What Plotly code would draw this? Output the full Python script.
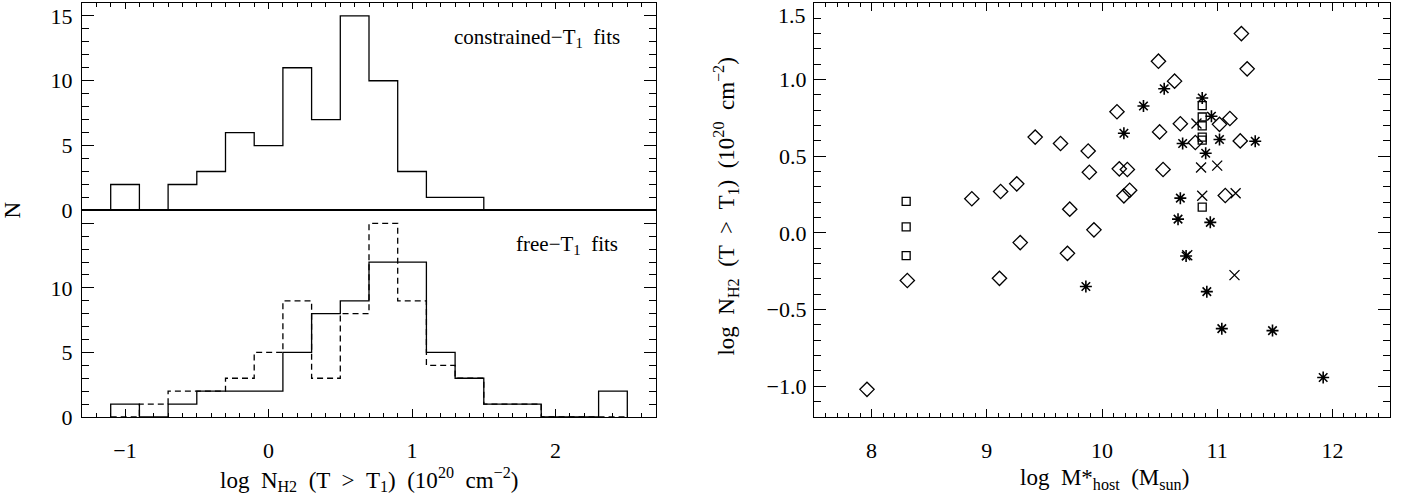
import plotly.graph_objects as go

# ---------------- data ----------------
bin_edges = [-1.1, -0.9, -0.7, -0.5, -0.3, -0.1, 0.1, 0.3, 0.5, 0.7, 0.9,
             1.1, 1.3, 1.5, 1.7, 1.9, 2.1, 2.3, 2.5]
counts_constrained = [2, 0, 2, 3, 6, 5, 11, 7, 15, 10, 3, 1, 1, 0, 0, 0, 0, 0]
counts_free = [1, 0, 1, 2, 2, 2, 5, 8, 9, 12, 12, 5, 3, 1, 1, 0, 0, 2]
counts_free_dashed = [0, 1, 2, 2, 3, 5, 9, 3, 8, 15, 9, 4, 3, 1, 1, 0, 0, 0]

diamond_x = [11.21, 10.49, 11.26, 10.63, 10.13, 9.42, 9.64, 9.88, 10.50, 10.68,
             11.02, 11.11, 10.81, 11.20, 9.89, 10.15, 10.22, 10.53, 8.87, 9.12,
             9.26, 10.19, 10.24, 11.07, 9.72, 9.93, 9.29, 9.70, 9.11, 8.31, 7.96]
diamond_y = [1.30, 1.12, 1.07, 0.99, 0.79, 0.625, 0.583, 0.534, 0.659, 0.712,
             0.708, 0.746, 0.59, 0.60, 0.396, 0.418, 0.414, 0.414, 0.223, 0.27,
             0.32, 0.242, 0.278, 0.244, 0.155, 0.02, -0.063, -0.133, -0.296, -0.31, -1.02]

asterisk_x = [10.54, 10.36, 10.87, 10.95, 10.19, 10.70, 11.02, 11.33, 10.90, 10.68,
              10.66, 10.94, 10.73, 9.86, 10.91, 11.04, 11.48, 11.92]
asterisk_y = [0.94, 0.828, 0.88, 0.761, 0.65, 0.583, 0.609, 0.598, 0.52, 0.227,
              0.09, 0.069, -0.15, -0.349, -0.383, -0.624, -0.637, -0.943]

cross_x = [10.82, 10.86, 11.00, 10.87, 11.16, 11.15, 10.74]
cross_y = [0.714, 0.427, 0.439, 0.242, 0.259, -0.275, -0.145]

square_x = [8.30, 8.30, 8.30, 10.87, 10.87, 10.87, 10.87, 10.87, 10.87]
square_y = [0.206, 0.04, -0.148, 0.83, 0.756, 0.698, 0.625, 0.605, 0.168]

hist_yticks = [0, 5, 10, 15]
scatter_yticks = [-1.0, -0.5, 0.0, 0.5, 1.0, 1.5]
scatter_xticks = [8, 9, 10, 11, 12]

# ---------------- helpers ----------------
W, H = 1411, 504
FONT = "Liberation Serif"
S = " \u00a0"  # widened gap


def px(x):
    return x / W


def py(y):
    return 1 - y / H


def step_line(edges, counts):
    xs = [edges[0]]
    ys = [0]
    for i, c in enumerate(counts):
        xs += [edges[i], edges[i + 1]]
        ys += [c, c]
    xs.append(edges[-1])
    ys.append(0)
    return xs, ys


fig = go.Figure()

x1, y1 = step_line(bin_edges, counts_constrained)
fig.add_trace(go.Scatter(x=x1, y=y1, mode="lines", line=dict(color="black", width=1.3),
                         xaxis="x", yaxis="y", showlegend=False))

x2, y2 = step_line(bin_edges, counts_free_dashed)
fig.add_trace(go.Scatter(x=x2, y=y2, mode="lines",
                         line=dict(color="black", width=1.3, dash="6px,4px"),
                         xaxis="x2", yaxis="y2", showlegend=False))
x3, y3 = step_line(bin_edges, counts_free)
fig.add_trace(go.Scatter(x=x3, y=y3, mode="lines", line=dict(color="black", width=1.3),
                         xaxis="x2", yaxis="y2", showlegend=False))

mk = dict(color="black", line=dict(color="black", width=1.3))
fig.add_trace(go.Scatter(x=diamond_x, y=diamond_y, mode="markers", xaxis="x3", yaxis="y3",
                         marker=dict(symbol="diamond-open", size=11, **mk), showlegend=False))
fig.add_trace(go.Scatter(x=square_x, y=square_y, mode="markers", xaxis="x3", yaxis="y3",
                         marker=dict(symbol="square-open", size=8, **mk), showlegend=False))
fig.add_trace(go.Scatter(x=asterisk_x, y=asterisk_y, mode="markers", xaxis="x3", yaxis="y3",
                         marker=dict(symbol="asterisk-open", size=10,
                                     color="black", line=dict(color="black", width=1.6)),
                         showlegend=False))
fig.add_trace(go.Scatter(x=cross_x, y=cross_y, mode="markers", xaxis="x3", yaxis="y3",
                         marker=dict(symbol="x-thin-open", size=10, **mk), showlegend=False))

tickfont = dict(family=FONT, size=22, color="black")


def axis(**kw):
    base = dict(showline=True, linecolor="black", linewidth=1.3, mirror="ticks",
                ticks="inside", tickcolor="black", tickwidth=1.2, showgrid=False,
                zeroline=False, tickfont=tickfont, ticklabelstandoff=4)
    base.update(kw)
    return base


LX = [px(82), px(656)]
RX = [px(814), px(1390)]
TOP = py(3)
MID = py(216)
BOT = py(428)

fig.update_layout(
    width=W, height=H, margin=dict(l=0, r=0, t=0, b=0),
    paper_bgcolor="white", plot_bgcolor="white",
    xaxis=axis(domain=LX, range=[-1.3, 2.7], anchor="y", side="top", mirror=True,
               showticklabels=False, tick0=0, dtick=1, ticklen=6,
               minor=dict(dtick=0.1, ticklen=4, ticks="inside", tickcolor="black")),
    yaxis=axis(domain=[MID, TOP], range=[0, 16], anchor="x", tickvals=hist_yticks,
               ticklen=12, minor=dict(dtick=1, ticklen=7, ticks="inside", tickcolor="black")),
    xaxis2=axis(domain=LX, range=[-1.3, 2.7], anchor="y2", side="bottom", mirror=True,
                tick0=0, dtick=1, ticklen=8, ticklabelstandoff=13,
                minor=dict(dtick=0.1, ticklen=4, ticks="inside", tickcolor="black")),
    yaxis2=axis(domain=[BOT, MID], range=[0, 16], anchor="x2", tickvals=hist_yticks,
                ticktext=["0", "5", "10", ""], ticklen=12,
                minor=dict(dtick=1, ticklen=7, ticks="inside", tickcolor="black")),
    xaxis3=axis(domain=RX, range=[7.5, 12.5], anchor="y3", tickvals=scatter_xticks, ticklen=8,
                ticklabelstandoff=13,
                minor=dict(dtick=0.1, ticklen=4, ticks="inside", tickcolor="black")),
    yaxis3=axis(domain=[BOT, TOP], range=[-1.2, 1.5], anchor="x3", tickvals=scatter_yticks,
                ticktext=["\u22121.0", "\u22120.5", "0.0", "0.5", "1.0", ""], ticklen=12,
                ticklabelstandoff=2,
                minor=dict(dtick=0.1, ticklen=7, ticks="inside", tickcolor="black")),
)

tfont = dict(family=FONT, size=23, color="black")
afont = dict(family=FONT, size=21, color="black")
title_nh2 = ("log" + S + "N<sub>H2</sub>" + S + "(T" + S + ">" + S + "T<sub>1</sub>)" + S
             + "(10<sup>20</sup>" + S + "cm<sup>\u22122</sup>)")
fig.add_annotation(x=px(369), y=py(492), xref="paper", yref="paper", text=title_nh2,
                   showarrow=False, font=tfont, xanchor="center", yanchor="middle")
fig.add_annotation(x=px(1104), y=py(492), xref="paper", yref="paper",
                   text="log" + S + "M*<sub>host</sub>" + S + "(M<sub>sun</sub>)",
                   showarrow=False, font=tfont, xanchor="center", yanchor="middle")
fig.add_annotation(x=px(726), y=py(212), xref="paper", yref="paper", text=title_nh2,
                   showarrow=False, font=tfont, textangle=-90, xanchor="center", yanchor="middle")
fig.add_annotation(x=px(12), y=py(216), xref="paper", yref="paper", text="N",
                   showarrow=False, font=tfont, textangle=-90, xanchor="center", yanchor="middle")
fig.add_annotation(x=px(808), y=py(16), xref="paper", yref="paper", text="1.5",
                   showarrow=False, font=tickfont, xanchor="right", yanchor="middle")
fig.add_annotation(x=px(622), y=py(39), xref="paper", yref="paper",
                   text="constrained\u2212T<sub>1</sub>" + S + "fits",
                   showarrow=False, font=afont, xanchor="right", yanchor="middle")
fig.add_annotation(x=px(620), y=py(251), xref="paper", yref="paper",
                   text="free\u2212T<sub>1</sub>" + S + "fits",
                   showarrow=False, font=afont, xanchor="right", yanchor="middle")

fig.write_html("out.html")
